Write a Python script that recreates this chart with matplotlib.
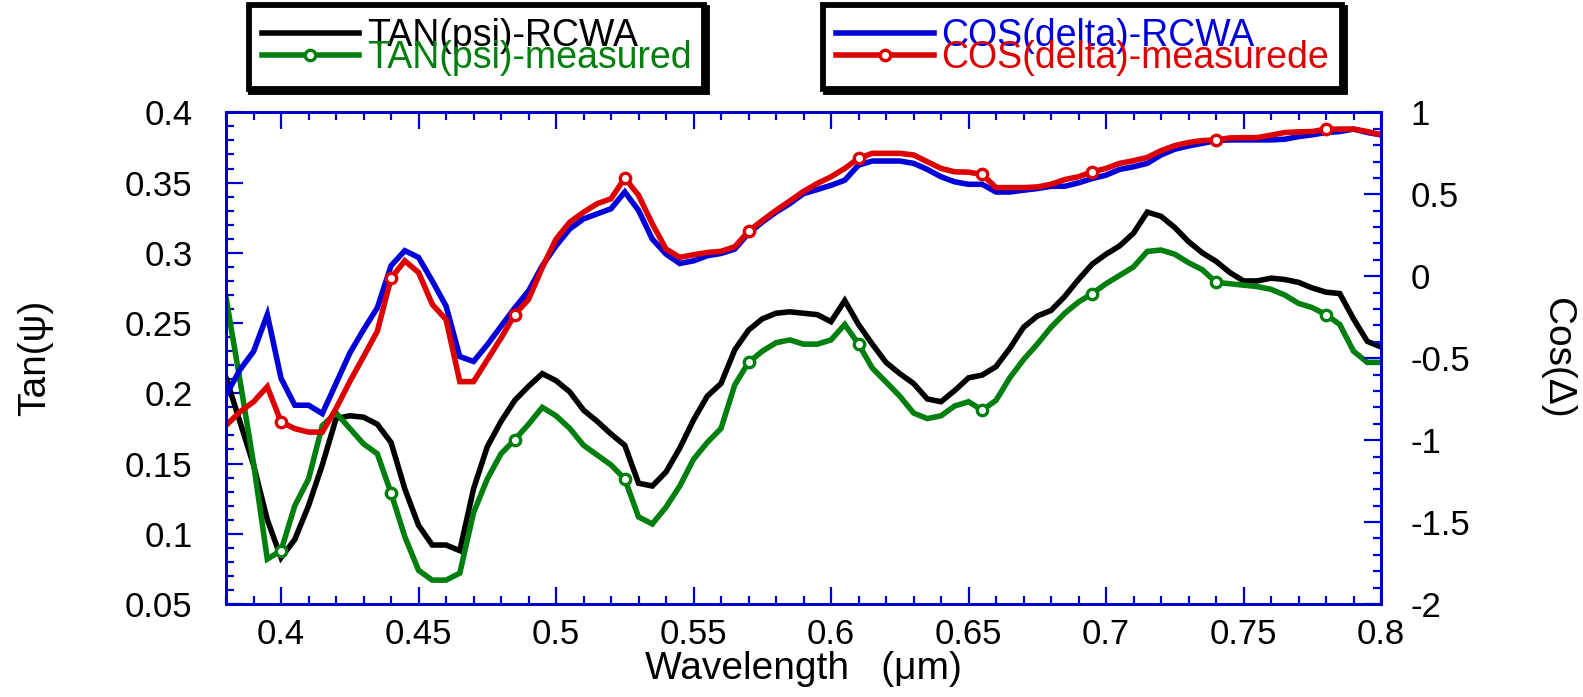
import matplotlib
matplotlib.use("Agg")
import matplotlib.pyplot as plt
from matplotlib.lines import Line2D
from matplotlib.ticker import MultipleLocator
import numpy as np

plt.rcParams['font.family'] = ['Liberation Sans', 'DejaVu Sans']

# Wavelength grid (um), 5 nm step
wavelength = np.round(np.arange(0.380, 0.8001, 0.005), 3)

tan_psi_rcwa = [
    0.211, 0.180, 0.149, 0.110, 0.083, 0.096, 0.120, 0.149, 0.182, 0.184,
    0.183, 0.178, 0.165, 0.132, 0.106, 0.092, 0.092, 0.088, 0.132, 0.162,
    0.180, 0.195, 0.205, 0.214, 0.209, 0.201, 0.188, 0.180, 0.171, 0.163,
    0.136, 0.134, 0.144, 0.161, 0.181, 0.198, 0.207, 0.231, 0.245, 0.253,
    0.257, 0.258, 0.257, 0.256, 0.251, 0.266, 0.249, 0.235, 0.222, 0.214,
    0.207, 0.196, 0.194, 0.202, 0.211, 0.213, 0.219, 0.232, 0.247, 0.255,
    0.259, 0.269, 0.281, 0.292, 0.299, 0.305, 0.314, 0.329, 0.326, 0.318,
    0.308, 0.300, 0.294, 0.286, 0.280, 0.280, 0.282, 0.281, 0.279, 0.275,
    0.272, 0.271, 0.253, 0.237, 0.233,
]

tan_psi_measured = [
    0.268, 0.210, 0.150, 0.082, 0.088, 0.120, 0.139, 0.177, 0.186, 0.175,
    0.164, 0.157, 0.129, 0.098, 0.074, 0.067, 0.067, 0.072, 0.115, 0.139,
    0.157, 0.167, 0.178, 0.190, 0.184, 0.175, 0.163, 0.156, 0.149, 0.139,
    0.112, 0.107, 0.119, 0.134, 0.153, 0.165, 0.175, 0.206, 0.222, 0.230,
    0.236, 0.238, 0.235, 0.235, 0.238, 0.249, 0.235, 0.218, 0.208, 0.198,
    0.186, 0.182, 0.184, 0.191, 0.194, 0.188, 0.195, 0.211, 0.224, 0.235,
    0.247, 0.257, 0.265, 0.271, 0.278, 0.284, 0.290, 0.301, 0.302, 0.299,
    0.293, 0.288, 0.279, 0.278, 0.277, 0.276, 0.274, 0.270, 0.264, 0.261,
    0.256, 0.249, 0.230, 0.222, 0.222,
]

cos_delta_rcwa = [
    -0.725, -0.572, -0.459, -0.234, -0.623, -0.787, -0.787, -0.838, -0.654, -0.469,
    -0.326, -0.193, 0.064, 0.156, 0.115, -0.029, -0.182, -0.490, -0.520, -0.418,
    -0.305, -0.193, -0.090, 0.064, 0.186, 0.289, 0.350, 0.381, 0.412, 0.514,
    0.402, 0.227, 0.135, 0.078, 0.094, 0.125, 0.139, 0.166, 0.262, 0.330,
    0.391, 0.443, 0.504, 0.529, 0.555, 0.586, 0.678, 0.703, 0.703, 0.703,
    0.689, 0.652, 0.607, 0.576, 0.561, 0.561, 0.514, 0.514, 0.525, 0.535,
    0.549, 0.549, 0.570, 0.596, 0.617, 0.652, 0.668, 0.689, 0.740, 0.775,
    0.795, 0.811, 0.828, 0.832, 0.832, 0.832, 0.832, 0.836, 0.852, 0.863,
    0.877, 0.883, 0.898, 0.877, 0.863,
]

cos_delta_measured = [
    -0.910, -0.828, -0.766, -0.674, -0.889, -0.930, -0.951, -0.951, -0.807, -0.643,
    -0.490, -0.336, -0.012, 0.094, 0.023, -0.172, -0.264, -0.643, -0.643, -0.510,
    -0.377, -0.234, -0.141, 0.053, 0.227, 0.330, 0.391, 0.443, 0.473, 0.600,
    0.494, 0.320, 0.166, 0.115, 0.131, 0.145, 0.152, 0.180, 0.275, 0.340,
    0.402, 0.459, 0.518, 0.566, 0.607, 0.658, 0.719, 0.750, 0.750, 0.750,
    0.740, 0.699, 0.658, 0.637, 0.635, 0.621, 0.541, 0.541, 0.541, 0.545,
    0.561, 0.590, 0.607, 0.637, 0.658, 0.689, 0.705, 0.725, 0.766, 0.797,
    0.816, 0.828, 0.832, 0.844, 0.846, 0.846, 0.861, 0.877, 0.881, 0.883,
    0.898, 0.898, 0.898, 0.883, 0.863,
]

# Indices of the measured points that carry a symbol
marker_idx = [4, 12, 21, 29, 38, 46, 55, 63, 72, 80]

labels = ['TAN(psi)-RCWA', 'TAN(psi)-measured', 'COS(delta)-RCWA', 'COS(delta)-measurede']

C_BLACK = '#000000'
C_GREEN = '#007F0E'
C_BLUE = '#0000D8'
C_RED = '#DD0000'
C_AXIS = '#0000CC'

LW = 4.0
mk = dict(marker='o', markersize=7.5, markerfacecolor='white', markeredgewidth=2.4)

fig = plt.figure(figsize=(15.83, 6.97), dpi=100)
ax = fig.add_axes([0.1428, 0.1334, 0.7296, 0.7054])
ax2 = ax.twinx()

ax.plot(wavelength, tan_psi_rcwa, color=C_BLACK, lw=LW, solid_joinstyle='miter')
ax.plot(wavelength, tan_psi_measured, color=C_GREEN, lw=LW, markeredgecolor=C_GREEN,
        markevery=marker_idx, solid_joinstyle='miter', **mk)
ax2.plot(wavelength, cos_delta_rcwa, color=C_BLUE, lw=LW, solid_joinstyle='miter')
ax2.plot(wavelength, cos_delta_measured, color=C_RED, lw=LW, markeredgecolor=C_RED,
         markevery=marker_idx, solid_joinstyle='miter', **mk)

ax.set_xlim(0.38, 0.8)
ax.set_ylim(0.05, 0.4)
ax2.set_ylim(-2, 1)

ax.xaxis.set_major_locator(MultipleLocator(0.05))
ax.xaxis.set_minor_locator(MultipleLocator(0.01))
ax.yaxis.set_major_locator(MultipleLocator(0.05))
ax.yaxis.set_minor_locator(MultipleLocator(0.01))
ax2.yaxis.set_major_locator(MultipleLocator(0.5))
ax2.yaxis.set_minor_locator(MultipleLocator(0.1))

def fmt(v, _):
    s = f"{v:.2f}".rstrip('0').rstrip('.')
    return s

ax.xaxis.set_major_formatter(plt.FuncFormatter(fmt))
ax.yaxis.set_major_formatter(plt.FuncFormatter(fmt))
ax2.yaxis.set_major_formatter(plt.FuncFormatter(fmt))

TS = 25
ax.tick_params(axis='x', which='both', direction='in', top=True, bottom=True,
               color=C_AXIS, width=1.6, labelsize=TS, pad=10)
ax.tick_params(axis='x', which='major', length=12)
ax.tick_params(axis='x', which='minor', length=6)
ax.tick_params(axis='y', which='both', direction='in', left=True, right=False,
               color=C_AXIS, width=1.6, labelsize=TS, pad=24)
ax.tick_params(axis='y', which='major', length=12)
ax.tick_params(axis='y', which='minor', length=6)
ax2.tick_params(axis='y', which='both', direction='in', right=True, left=False,
                color=C_AXIS, width=1.6, labelsize=TS, pad=21)
ax2.tick_params(axis='y', which='major', length=12)
ax2.tick_params(axis='y', which='minor', length=6)

for a in (ax, ax2):
    for sp in a.spines.values():
        sp.set_color(C_AXIS)
        sp.set_linewidth(2.0)

ax.set_xlabel('Wavelength   (μm)', fontsize=28, labelpad=0)
ax.set_ylabel('Tan(ψ)', fontsize=28, labelpad=52)
ax2.set_ylabel('Cos(Δ)', fontsize=28, rotation=270, labelpad=76)

# Legend boxes
def proxy(color, marker=False):
    if marker:
        return Line2D([], [], color=color, lw=LW, markeredgecolor=color, **mk)
    return Line2D([], [], color=color, lw=LW)

leg_kw = dict(fontsize=27, frameon=True, fancybox=False, edgecolor='black',
              shadow={'color': 'black', 'alpha': 1}, handlelength=2.6,
              handletextpad=0.2, labelspacing=-0.38, borderpad=0.35,
              borderaxespad=0, numpoints=1, loc='upper left',
              bbox_transform=fig.transFigure)

leg1 = fig.legend(handles=[proxy(C_BLACK), proxy(C_GREEN, True)], labels=labels[:2],
                  bbox_to_anchor=(0.157, 0.993), labelcolor=[C_BLACK, C_GREEN], **leg_kw)
leg2 = fig.legend(handles=[proxy(C_BLUE), proxy(C_RED, True)], labels=labels[2:],
                  bbox_to_anchor=(0.520, 0.993), labelcolor=[C_BLUE, C_RED], **leg_kw)
for lg in (leg1, leg2):
    lg.get_frame().set_linewidth(4.2)

fig.savefig('out.png', dpi=100)
